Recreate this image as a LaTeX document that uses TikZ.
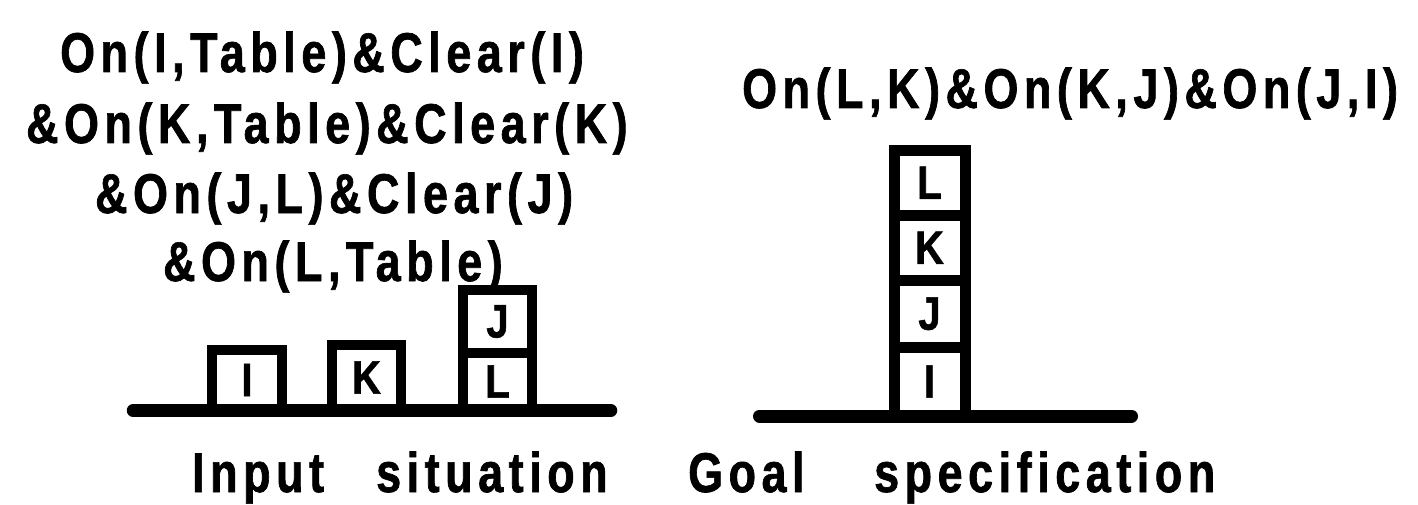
\documentclass[tikz,border=0pt]{standalone}
\usepackage{fontspec}
\setmainfont{Liberation Sans}
\newfontfamily\labelfont[FakeStretch=0.8, LetterSpace=10, FakeBold=1.2]{Liberation Sans Bold}
\newfontfamily\blockfont[FakeStretch=0.85, FakeBold=1.2]{Liberation Sans Bold}
\begin{document}
\begin{tikzpicture}[x=1pt,y=-1pt,
  txt/.style={anchor=base west, inner sep=0pt, font=\labelfont\fontsize{56}{60}\selectfont},
  blk/.style={rectangle, draw=black, fill=white, line width=10pt, inner sep=0pt, outer sep=0pt,
              font=\blockfont\fontsize{47}{50}\selectfont},
  tower/.style={blk, line width=11pt, minimum width=71pt},
  ground/.style={line width=12.5pt, line cap=round}]
\useasboundingbox (0,0) rectangle (1418,505);

% initial situation: I and K on the table, J on L
\node[blk, minimum width=70pt, minimum height=60pt] (bI) at (247,380) {I};
\node[blk, minimum width=69pt, minimum height=65pt] (bK) at (366.5,377.5) {K};
\node[blk, minimum width=69pt, minimum height=57pt] (bL) at (497.5,381.5) {L};
\node[blk, minimum width=69pt, minimum height=63pt, anchor=south] (bJ) at (bL.north) {J};

\coordinate (gl1) at (133,410.5);
\coordinate (gr1) at (611,410.5);
\draw[ground] (gl1) -- (gr1);

% goal: a single tower I-J-K-L
\node[tower, minimum height=69pt] (tI) at (929.5,381.5) {I};
\node[tower, minimum height=66.5pt, anchor=south] (tJ) at (tI.north) {J};
\node[tower, minimum height=65.5pt, anchor=south] (tK) at (tJ.north) {K};
\node[tower, minimum height=64.5pt, anchor=south] (tL) at (tK.north) {L};

\coordinate (gl2) at (759.5,416);
\coordinate (gr2) at (1131.5,416);
\draw[ground, line width=13pt] (gl2) -- (gr2);

% formulas
\node[txt] (f1) at (60,72)  {On(I,Table)\&Clear(I)};
\node[txt] (f2) at (26,143) {\&On(K,Table)\&Clear(K)};
\node[txt] (f3) at (95,213) {\&On(J,L)\&Clear(J)};
\node[txt] (f4) at (163,281) {\&On(L,Table)};
\node[txt] (g1) at (742,108) {On(L,K)\&On(K,J)\&On(J,I)};

% captions
\node[txt] (c1) at (192,492)  {Input};
\node[txt] (c2) at (376,492)  {situation};
\node[txt] (c3) at (688,492)  {Goal};
\node[txt] (c4) at (874,492)  {specification};
\end{tikzpicture}
\end{document}
